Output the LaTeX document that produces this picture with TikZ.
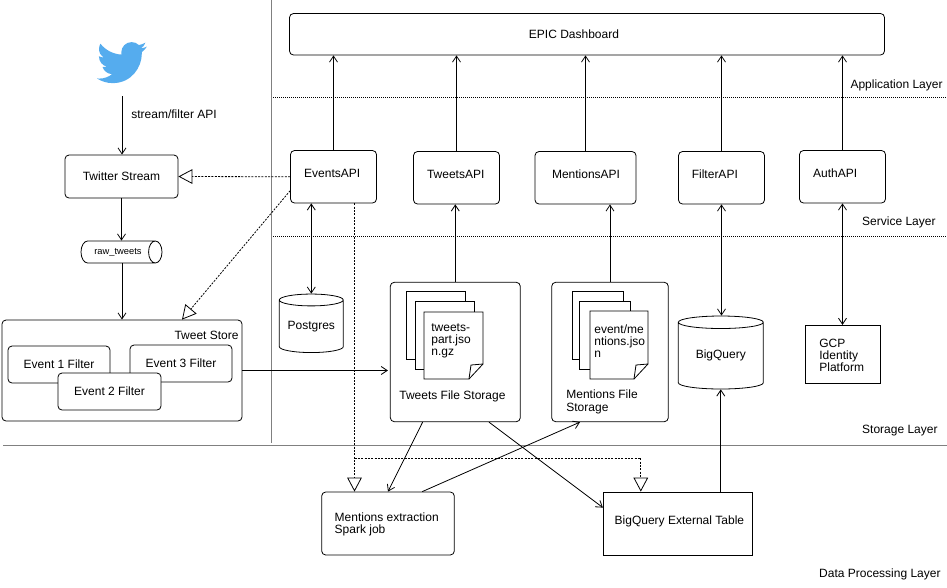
\documentclass[tikz,border=0pt]{standalone}
\usepackage{fontspec}
\setmainfont{Liberation Sans}
\usetikzlibrary{arrows.meta,shapes.geometric}
\definecolor{birdblue}{HTML}{55ACEE}
\definecolor{rulegray}{HTML}{808080}

\begin{document}
\begin{tikzpicture}[x=0.75pt,y=-0.75pt,font=\fontsize{9}{9.2}\selectfont,line width=0.6pt]
    \tikzstyle{box}=[draw,rounded corners=3pt,fill=white,inner sep=0pt]
    \tikzstyle{flatbox}=[draw,fill=white,inner sep=0pt]
    \tikzstyle{size}=[minimum width=#1*0.75pt]
    \tikzstyle{high}=[minimum height=#1*0.75pt]
    \tikzstyle{txt}=[inner sep=0pt,align=left,anchor=west]
    \tikzstyle{db}=[draw,fill=white,cylinder,shape border rotate=90,aspect=0.25,inner sep=0pt,anchor=shape center]
    \tikzstyle{arr}=[-{Straight Barb[length=4.5pt,width=6pt]}]
    \tikzstyle{both}=[{Straight Barb[length=4.5pt,width=6pt]}-{Straight Barb[length=4.5pt,width=6pt]}]
    \tikzstyle{inherit}=[dash pattern=on 1.5pt off 1pt,-{Triangle[open,fill=white,length=10.5pt,width=11pt]}]
    \tikzstyle{layer}=[dash pattern=on 0.75pt off 0.75pt,line width=0.75pt]
    \tikzstyle{sheet}=[draw,fill=white,minimum width=59*0.75pt,minimum height=68*0.75pt,inner sep=0pt]

    \useasboundingbox (0,0) rectangle (947,587);

    \coordinate (ruletop) at (271,0);
    \coordinate (rulebottom) at (271,443);
    \coordinate (storeleft) at (3,445);
    \coordinate (storeright) at (947,445);
    \coordinate (appleft) at (273,97);
    \coordinate (appright) at (947,97);
    \coordinate (serviceleft) at (273,236);
    \coordinate (serviceright) at (947,236);
    \draw[rulegray,line width=0.75pt] (ruletop) -- (rulebottom);
    \draw[rulegray,line width=0.75pt] (storeleft) -- (storeright);
    \draw[layer] (appleft) -- (appright);
    \draw[layer] (serviceleft) -- (serviceright);

    \node[txt,anchor=east] (applayer) at (943,85) {Application Layer};
    \node[txt,anchor=east] (servicelayer) at (936,222) {Service Layer};
    \node[txt,anchor=east] (storagelayer) at (938,431) {Storage Layer};
    \node[txt,anchor=east] (datalayer) at (941,574) {Data Processing Layer};

    \begin{scope}[shift={(97,37)},x=1.56pt,y=-1.59pt]
        \fill[birdblue] (23.953,4.57) .. controls (23.07,4.96) and (22.12,5.22) .. (21.128,5.345)
            .. controls (22.1,4.76) and (22.9,3.8) .. (23.291,2.622)
            .. controls (22.34,3.177) and (21.286,3.581) .. (20.164,3.806)
            .. controls (19.25,2.9) and (18,2.4) .. (16.6,2.4)
            .. controls (13.9,2.4) and (11.68,4.6) .. (11.68,7.3)
            .. controls (11.68,7.65) and (11.7,8) .. (11.78,8.288)
            .. controls (7.69,8.095) and (4.067,6.13) .. (1.64,3.162)
            .. controls (1.22,3.88) and (0.974,4.73) .. (0.974,5.637)
            .. controls (0.974,7.347) and (1.844,8.85) .. (3.162,9.733)
            .. controls (2.36,9.71) and (1.6,9.49) .. (0.934,9.117)
            -- (0.934,9.177)
            .. controls (0.934,11.56) and (2.63,13.55) .. (4.88,14.004)
            .. controls (4.17,14.2) and (3.4,14.23) .. (2.668,14.089)
            .. controls (3.3,16.06) and (5.15,17.47) .. (7.272,17.506)
            .. controls (5.6,18.82) and (3.45,19.611) .. (1.17,19.611)
            .. controls (0.78,19.611) and (0.39,19.588) .. (0,19.544)
            .. controls (2.179,20.938) and (4.768,21.753) .. (7.557,21.753)
            .. controls (16.611,21.753) and (21.556,14.257) .. (21.556,7.767)
            .. controls (21.556,7.557) and (21.556,7.347) .. (21.541,7.137)
            .. controls (22.5,6.45) and (23.34,5.57) .. (23.953,4.57) -- cycle;
    \end{scope}

    \node[box,size=595,high=41.5,label={[xshift=-9.75pt]center:EPIC Dashboard}] (dashboard) at (587,34.25) {};
    \node[box,size=86,high=52.5,label={[xshift=-1pt,yshift=2.3pt]center:EventsAPI}] (events) at (333.5,176.75) {};
    \node[box,size=86,high=52.5,label={[xshift=-0.6pt,yshift=2.6pt]center:TweetsAPI}] (tweets) at (456.5,177.75) {};
    \node[box,size=101,high=52.5,label={[xshift=0.4pt,yshift=2.6pt]center:MentionsAPI}] (mentions) at (585.5,177.75) {};
    \node[box,size=86,high=52.5,label={[xshift=-5pt,yshift=2.6pt]center:FilterAPI}] (filter) at (721.5,177.75) {};
    \node[box,size=86,high=52.5,label={[xshift=-5.5pt,yshift=2.3pt]center:AuthAPI}] (auth) at (842.5,176.75) {};

    \node[box,size=113,high=43] (stream) at (121.5,176.5) {Twitter Stream};
    \node[draw,fill=white,cylinder,aspect=1.7,minimum width=22*0.75pt,minimum height=81*0.75pt,inner sep=0pt,anchor=shape center,font=\fontsize{7}{8}\selectfont] (rawcyl) at (121.5,252) {raw\_tweets};

    \node[box,size=240,high=101] (store) at (122,370.5) {};
    \node[txt,anchor=east] (storetitle) at (239,335) {Tweet Store};
    \node[box,size=102,high=37] (eventone) at (59,364.5) {Event 1 Filter};
    \node[box,size=102,high=37] (eventthree) at (181,363.5) {Event 3 Filter};
    \node[box,size=103,high=37] (eventtwo) at (109.5,391.5) {Event 2 Filter};

    \node[db,minimum width=64*0.75pt,minimum height=58.5*0.75pt] (postgres) at (311.3,323.3) {Postgres};
    \node[db,minimum width=85*0.75pt,minimum height=73*0.75pt] (bigquery) at (720.8,352.5) {BigQuery};
    \node[flatbox,size=75,high=58] (gcp) at (842.8,354.3) {};
    \node[txt] (gcptext) at (819,355.5) {GCP\\Identity\\Platform};

    \node[box,size=130,high=139.4] (tweetfiles) at (455.3,352) {};
    \node[txt] (tweetfilestext) at (399,396.5) {Tweets File Storage};
    \node[box,size=116.6,high=139.4] (mentionfiles) at (610,352) {};
    \node[txt] (mentionfilestext) at (566,402) {Mentions File\\Storage};

    \node[sheet] (tweetsheeta) at (436,325.3) {};
    \node[sheet] (tweetsheetb) at (445.2,335.3) {};
    \coordinate (tweetfronta) at (424,312);
    \coordinate (tweetfrontb) at (483,312);
    \coordinate (tweetfrontc) at (483,364);
    \coordinate (tweetfrontd) at (469,379);
    \coordinate (tweetfronte) at (424,379);
    \coordinate (tweetfoldb) at (471,365);
    \draw[fill=white] (tweetfronta) -- (tweetfrontb) -- (tweetfrontc) -- (tweetfrontd) -- (tweetfronte) -- cycle;
    \draw (tweetfrontc) -- (tweetfoldb) -- (tweetfrontd);
    \node[txt] (tweetname) at (431,341) {tweets-\\part.jso\\n.gz};

    \node[sheet,minimum width=51*0.75pt] (mentionsheeta) at (597.5,325.3) {};
    \node[sheet,minimum width=51*0.75pt] (mentionsheetb) at (605,335.3) {};
    \coordinate (mentionfronta) at (590,311);
    \coordinate (mentionfrontb) at (648,311);
    \coordinate (mentionfrontc) at (648,364);
    \coordinate (mentionfrontd) at (634,379);
    \coordinate (mentionfronte) at (590,379);
    \coordinate (mentionfoldb) at (636,365);
    \draw[fill=white] (mentionfronta) -- (mentionfrontb) -- (mentionfrontc) -- (mentionfrontd) -- (mentionfronte) -- cycle;
    \draw (mentionfrontc) -- (mentionfoldb) -- (mentionfrontd);
    \node[txt] (mentionname) at (594,341) {event/me\\ntions.jso\\n};

    \node[box,size=132.6,high=63] (sparkjob) at (388,523.5) {};
    \node[txt] (sparktext) at (334.3,524.5) {Mentions extraction\\Spark job};
    \node[flatbox,size=149.4,high=63] (external) at (678,523.5) {};
    \node[txt] (externaltext) at (614.3,521.5) {BigQuery External Table};

    \coordinate (birdfoot) at (122,96);
    \node[txt] (streamlabel) at (131,114) {stream/filter API};
    \coordinate (branch) at (354.5,458);

    \draw[arr] (birdfoot) -- (stream.north -| birdfoot);
    \draw[arr] (stream.south) -- (rawcyl.north -| stream.south);
    \draw[arr] (rawcyl.south -| store.north) -- (store.north);
    \draw[arr] (store.east) -- ([xshift=-1.5pt]tweetfiles.west |- store.east);

    \draw[arr] (events.north) -- (events.north |- dashboard.south);
    \draw[arr] (tweets.north) -- (tweets.north |- dashboard.south);
    \draw[arr] (mentions.north) -- (mentions.north |- dashboard.south);
    \draw[arr] (filter.north) -- (filter.north |- dashboard.south);
    \draw[arr] (auth.north) -- (auth.north |- dashboard.south);

    \draw[both] (postgres.north |- events.south) -- (postgres.north);
    \draw[arr] (tweetfiles.north) -- (tweetfiles.north |- tweets.south);
    \draw[arr] (mentionfiles.north) -- (mentionfiles.north |- mentions.south);
    \draw[both] (filter.south) -- (filter.south |- bigquery.north);
    \draw[both] (auth.south) -- (auth.south |- gcp.north);
    \draw[arr] (external.north -| bigquery.south) -- (bigquery.south);

    \draw[inherit] (events.west) -- (stream.east);
    \draw[inherit] ([yshift=-10.5pt]events.west) -- ([xshift=45pt]store.north);
    \draw[inherit] (branch |- events.south) -- (branch |- sparkjob.north);
    \draw[inherit] (branch) -| ([xshift=-27.9pt]external.north);

    \draw[arr] ([xshift=-24.5pt]tweetfiles.south) -- (sparkjob.north);
    \draw[arr] ([xshift=25.2pt]tweetfiles.south) -- ([yshift=-12pt]external.north west);
    \draw[arr] ([xshift=25.7pt]sparkjob.north) -- ([xshift=-22.5pt]mentionfiles.south);
\end{tikzpicture}
\end{document}
